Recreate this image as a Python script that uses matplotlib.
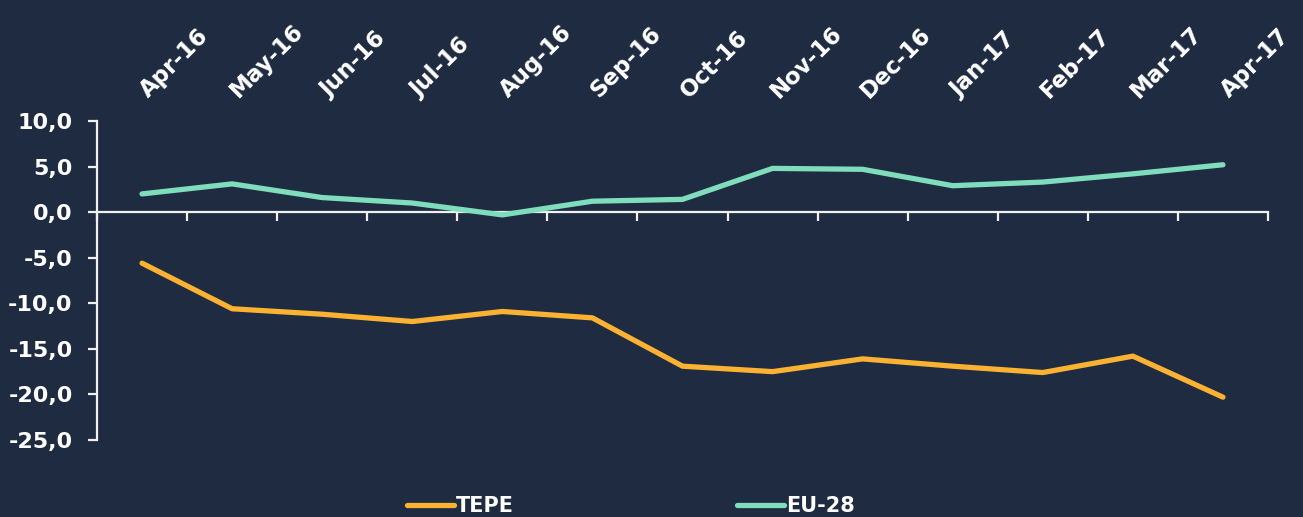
import matplotlib
matplotlib.use("Agg")
import matplotlib.pyplot as plt
import numpy as np

months = ["Apr-16", "May-16", "Jun-16", "Jul-16", "Aug-16", "Sep-16", "Oct-16",
          "Nov-16", "Dec-16", "Jan-17", "Feb-17", "Mar-17", "Apr-17"]
tepe = [-5.6, -10.6, -11.2, -12.0, -10.9, -11.6, -16.9, -17.5, -16.1, -16.9, -17.6, -15.8, -20.3]
eu28 = [2.0, 3.1, 1.6, 1.0, -0.3, 1.2, 1.4, 4.8, 4.7, 2.9, 3.3, 4.2, 5.2]
yticks = [10, 5, 0, -5, -10, -15, -20, -25]

BG = "#1E2B40"
ORANGE = "#FBB131"
GREEN = "#7FDDBD"
AX = "#F0F0F0"

plt.rcParams['font.family'] = ['DejaVu Sans']
fig = plt.figure(figsize=(13.03, 5.17), dpi=100, facecolor=BG)
ax = fig.add_axes([97/1303, 1-440/517, (1268-97)/1303, (440-121)/517])
ax.set_facecolor(BG)

x = np.arange(len(months))
l1, = ax.plot(x, tepe, color=ORANGE, lw=3.8, solid_capstyle='round', solid_joinstyle='round', label="TEPE", zorder=3)
l2, = ax.plot(x, eu28, color=GREEN, lw=3.8, solid_capstyle='round', solid_joinstyle='round', label="EU-28", zorder=3)

ax.set_xlim(-0.5, len(months) - 0.5)
ax.set_ylim(-25, 10)

for s in ["top", "right"]:
    ax.spines[s].set_visible(False)
ax.spines["left"].set_color(AX)
ax.spines["left"].set_linewidth(1.6)
ax.spines["bottom"].set_position(("data", 0))
ax.spines["bottom"].set_color(AX)
ax.spines["bottom"].set_linewidth(1.6)

ax.set_yticks(yticks)
ax.set_yticklabels([f"{v:.1f}".replace(".", ",") for v in yticks],
                   color="white", fontsize=16, fontweight="bold")
ax.tick_params(axis="y", direction="out", length=6.5, width=1.6, color=AX, pad=11)

# category labels on top
ax.set_xticks(x + 0.07)
ax.xaxis.set_ticks_position('bottom')
ax.tick_params(axis="x", which="major", length=0, labelbottom=False, labeltop=True, pad=16)
ax.set_xticklabels(months, color="white", fontsize=16.5, fontweight="bold",
                   rotation=45, ha="left", va="baseline", rotation_mode="anchor")
# boundary ticks
ax.set_xticks(np.arange(-0.5, len(months) + 0.5, 1), minor=True)
ax.tick_params(axis="x", which="minor", direction="out", length=6.5, width=1.6, color=AX)

leg = fig.legend(handles=[l1, l2], loc="lower center", bbox_to_anchor=(631/1303, -0.035),
                 ncol=2, frameon=False, handlelength=2.26, handletextpad=0.1,
                 columnspacing=10.7, prop={"weight": "bold", "size": 15})
for t in leg.get_texts():
    t.set_color("white")

fig.savefig("out.png", dpi=100, facecolor=BG)
